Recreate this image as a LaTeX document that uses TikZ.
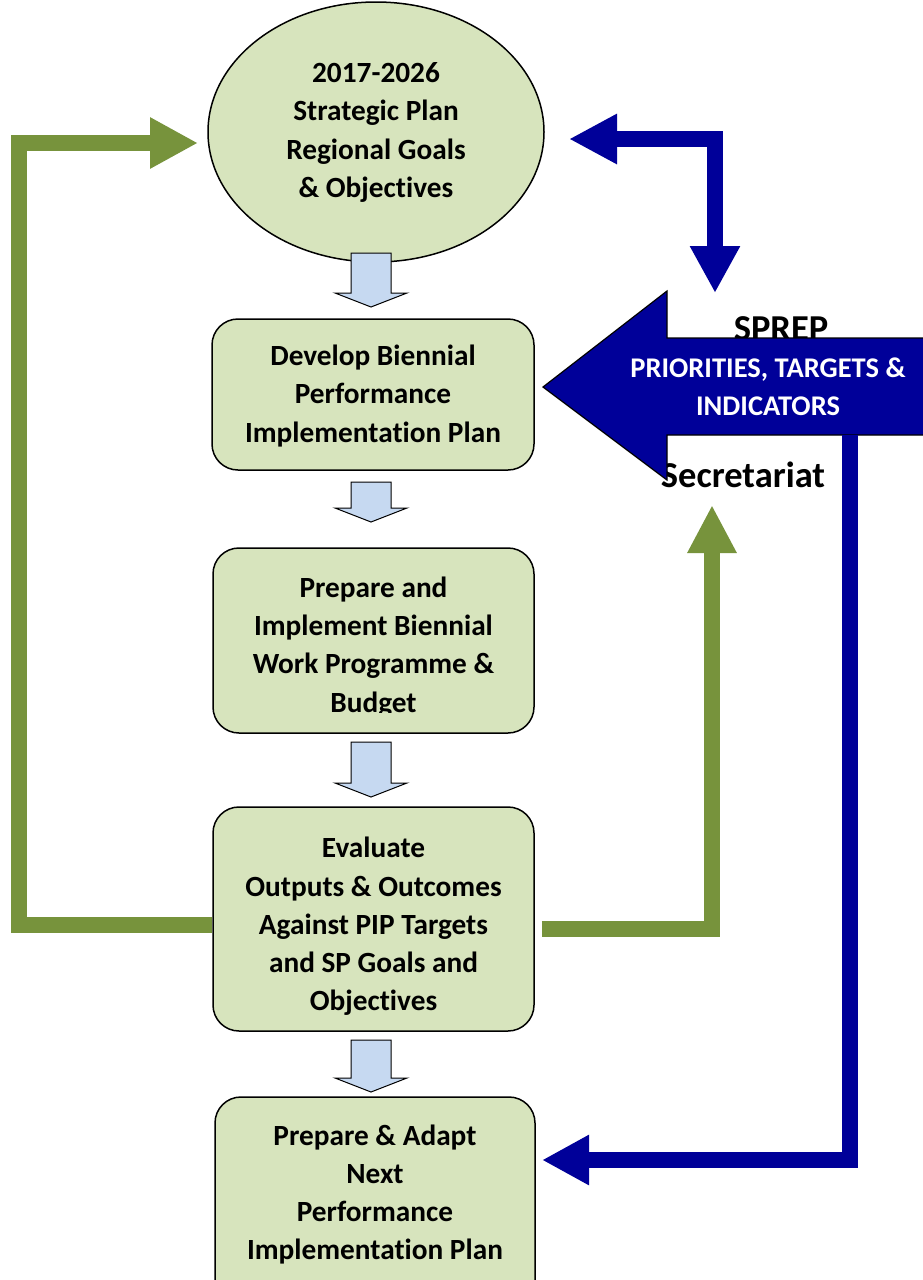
\documentclass[tikz,border=0pt]{standalone}
\usepackage{fontspec}
\setmainfont{Carlito}[Ligatures={NoCommon,NoContextual}, RawFeature={-liga;-clig;-calt;-dlig}]
\usetikzlibrary{shapes.geometric,arrows.meta,calc}
\definecolor{boxfill}{HTML}{D7E4BD}
\definecolor{arrowfill}{HTML}{C6D9F1}
\definecolor{grn}{HTML}{77933C}
\definecolor{blu}{HTML}{000099}
\newcommand{\blockdown}[3]{%
  \draw[blockarrow] (#1-20,#2) -- (#1+20,#2) -- (#1+20,#3-14) -- (#1+36,#3-14) -- (#1,#3) -- (#1-36,#3-14) -- (#1-20,#3-14) -- cycle;}
\begin{document}
\begin{tikzpicture}[x=1pt,y=-1pt,
  box/.style={draw=black, line width=1.5pt, fill=boxfill, rounded corners=26pt, inner sep=0pt},
  boxtext/.style={align=center, font=\fontsize{29.3}{38.3}\selectfont\bfseries, inner sep=0pt},
  blockarrow/.style={draw=black, line width=1pt, fill=arrowfill, line join=miter},
  gline/.style={draw=grn, line width=16pt, line join=miter},
  bline/.style={draw=blu, line width=16pt, line join=miter},
  tipg/.style={-{Triangle[length=48pt,width=48pt]}},
  big/.style={font=\fontsize{36.5}{40}\selectfont\bfseries, inner sep=0pt}]
\useasboundingbox (0,0) rectangle (923,1280);
\fill[white] (0,0) rectangle (923,1280);

% ellipse
\node[ellipse, draw=black, line width=1.5pt, fill=boxfill, minimum width=336pt, minimum height=260pt, inner sep=0pt] (sp) at (376,132) {};
\node[boxtext] (spt) at (376,132.5) {2017-2026\\Strategic Plan\\Regional Goals\\\&~Objectives};

% boxes
\node[box, minimum width=322pt, minimum height=151pt] (b1) at (373,394.5) {};
\node[boxtext] (b1t) at (373,396) {Develop Biennial\\Performance\\Implementation Plan};

\node[box, minimum width=321pt, minimum height=185pt] (b2) at (373.5,640.5) {};
\begin{scope}
\clip (200,560) rectangle (550,712);
\node[boxtext] (b2t) at (373.5,647) {Prepare and\\Implement Biennial\\Work Programme \&\\Budget};
\end{scope}

\node[box, minimum width=321pt, minimum height=224pt] (b3) at (373.5,919) {};
\node[boxtext] (b3t) at (373.5,926.5) {Evaluate\\Outputs \& Outcomes\\Against PIP Targets\\and SP Goals and\\Objectives};

\node[box, minimum width=320pt, minimum height=210pt] (b4) at (375,1202) {};
\node[boxtext] (b4t) at (375,1194.5) {Prepare \& Adapt\\Next\\Performance\\Implementation Plan};

% block arrows between boxes
\blockdown{371}{253}{307}
\blockdown{371}{482}{522}
\blockdown{371}{742}{797}
\blockdown{371}{1040}{1092}

% green loops
\coordinate (g1) at (19,925);
\coordinate (g2) at (19,143);
\coordinate (g3) at (198,143);
\draw[gline, tipg] ($(b3.west)+(0,6)$) -- (g1) -- (g2) -- (g3);
\coordinate (g4) at (712,929);
\coordinate (g5) at (712,505);
\draw[gline, -{Triangle[length=48pt,width=46pt]}] ($(b3.east)+(7,10)$) -- (g4) -- (g5);

% SPREP texts (behind big arrow)
\node[big] (sprep) at (781,329) {SPREP};
\node[big] (secr) at (743,475) {Secretariat};

% big block arrow
\coordinate (bt) at (543,387);
\draw[fill=blu, draw=black, line width=1.2pt, line join=miter] (bt) -- (667,291) -- (667,338) -- (930,338) -- (930,435) -- (667,435) -- (667,480) -- cycle;
\node[boxtext, text=white, font=\fontsize{28.5}{38}\selectfont\bfseries] (pri) at (768,387) {PRIORITIES, TARGETS \&\\INDICATORS};

% blue double arrow at top
\coordinate (u1) at (569,139);
\coordinate (u2) at (715,139);
\coordinate (u3) at (715,293);
\draw[bline, {Triangle[length=48pt,width=47pt]}-{Triangle[length=47pt,width=47pt]}] (u1) -- (u2) -- (u3);

% blue right line
\coordinate (r1) at (850,435);
\coordinate (r2) at (850,1160);
\coordinate (r3) at (542,1160);
\draw[bline, -{Triangle[length=47pt,width=47pt]}] (r1) -- (r2) -- (r3);
\end{tikzpicture}
\end{document}
